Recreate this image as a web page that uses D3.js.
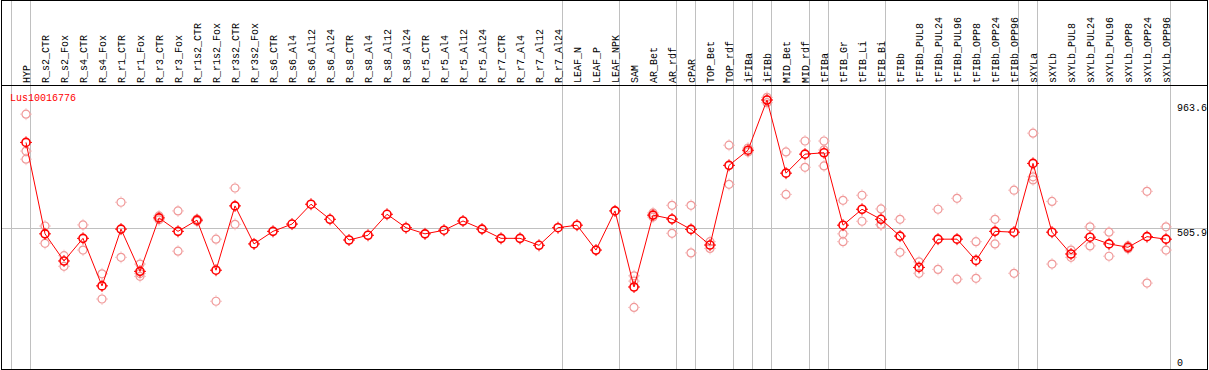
<!DOCTYPE html>
<html>
<head>
<meta charset="utf-8">
<script src="https://cdn.jsdelivr.net/npm/d3@7"></script>
<style>
  body { margin: 0; background: #fff; }
  svg { display: block; font-family: "Liberation Mono", "DejaVu Sans Mono", monospace; font-size: 10px; }
</style>
</head>
<body>
<svg width="1209" height="370"></svg>
<script>
const geneId = "Lus10016776"

const samples = ["HYP", "R_s2_CTR", "R_s2_Fox", "R_s4_CTR", "R_s4_Fox", "R_r1_CTR", "R_r1_Fox",
    "R_r3_CTR", "R_r3_Fox", "R_r1s2_CTR", "R_r1s2_Fox", "R_r3s2_CTR", "R_r3s2_Fox", "R_s6_CTR",
    "R_s6_Al4", "R_s6_Al12", "R_s6_Al24", "R_s8_CTR", "R_s8_Al4", "R_s8_Al12", "R_s8_Al24",
    "R_r5_CTR", "R_r5_Al4", "R_r5_Al12", "R_r5_Al24", "R_r7_CTR", "R_r7_Al4", "R_r7_Al12",
    "R_r7_Al24", "LEAF_N", "LEAF_P", "LEAF_NPK", "SAM", "AR_Bet", "AR_rdf", "cPAR", "TOP_Bet",
    "TOP_rdf", "iFIBa", "iFIBb", "MID_Bet", "MID_rdf", "tFIBa", "tFIB_Gr", "tFIB_Li", "tFIB_Bi",
    "tFIBb", "tFIBb_PUL8", "tFIBb_PUL24", "tFIBb_PUL96", "tFIBb_OPP8", "tFIBb_OPP24", "tFIBb_OPP96",
    "sXYLa", "sXYLb", "sXYLb_PUL8", "sXYLb_PUL24", "sXYLb_PUL96", "sXYLb_OPP8", "sXYLb_OPP24",
    "sXYLb_OPP96"]

// number of samples in each tissue group, separated by grey lines
const groupSizes = [1, 28, 3, 3, 1, 2, 1, 1, 2, 1, 3, 7, 1, 7]

const means = [812, 485, 388, 469, 299, 502, 351, 542, 494, 534, 355, 585, 449, 494,
    520, 591, 537, 463, 480, 555, 507, 485, 498, 531, 502, 469, 469, 444,
    507, 516, 427, 567, 295, 552, 538, 501, 445, 730, 784, 963.6, 702, 770,
    775, 516, 573, 537, 477, 365, 466, 466, 390, 494, 491, 737, 491, 413,
    473, 449, 437, 475, 466]

const replicates = [[913, 781, 752], [513, 451], [407, 369], [517, 427], [342, 252], [598, 401],
    [377, 343, 333], [549, 535], [567, 423], [538, 530], [466, 244], [649, 519],
    [], [], [], [], [], [], [], [], [], [], [], [], [], [], [], [], [], [], [], [],
    [335, 316, 222], [560, 545], [587, 487], [587, 417], [457, 433], [802, 662],
    [792, 778], [973, 964, 954], [778, 626], [817, 723], [817, 785, 728],
    [605, 485, 457], [623, 530], [574, 518, 518], [537, 419], [385, 344],
    [573, 358], [612, 323], [457, 326], [537, 449], [641, 344], [845, 689, 678],
    [601, 377], [427, 401], [510, 442], [491, 405], [442, 432], [637, 309], [510, 427]]

const yTicks = [963.6, 505.9, 0]
const yTickDy = [11, 8, -4]

const svg = d3.select("svg")
const width = +svg.attr("width")
const height = +svg.attr("height")
const headerY = 85.5

const x = d3.scalePoint().domain(samples).range([26, 1166])
const y = d3.scaleLinear().domain([0, 963.6]).range([369.5, 100])

// group separators
let bounds = [-1]
groupSizes.reduce((acc, n) => { bounds.push(acc + n - 1); return acc + n }, 0)
svg.append("g")
    .selectAll("line")
    .data(bounds)
    .enter().append("line")
    .attr("x1", d => 26 + x.step() * d + 4.5)
    .attr("x2", d => 26 + x.step() * d + 4.5)
    .attr("y1", 0)
    .attr("y2", height)
    .attr("stroke", "#c0c0c0")

svg.append("line")
    .attr("x1", 1).attr("x2", 1207)
    .attr("y1", Math.round(y(505.9)) + 0.5).attr("y2", Math.round(y(505.9)) + 0.5)
    .attr("stroke", "#c0c0c0")

// frame + header rule
svg.append("rect")
    .attr("x", 1.5).attr("y", 0.5)
    .attr("width", 1206).attr("height", 369)
    .attr("fill", "none").attr("stroke", "#000")
svg.append("line")
    .attr("x1", 1).attr("x2", 1208)
    .attr("y1", headerY).attr("y2", headerY)
    .attr("stroke", "#000")

svg.append("g")
    .selectAll("text")
    .data(samples)
    .enter().append("text")
    .attr("transform", d => `translate(${x(d) + 4},${headerY - 2.5}) rotate(-90)`)
    .text(d => d)

svg.append("g")
    .selectAll("text")
    .data(yTicks)
    .enter().append("text")
    .attr("x", 1177)
    .attr("y", (d, i) => y(d) + yTickDy[i])
    .text(d => d)

svg.append("text")
    .attr("x", 10).attr("y", 101)
    .attr("fill", "#ff0000")
    .text(geneId)

const marker = "M0,-6V-4M0,4V6M-6,0H-4M4,0H6"

let reps = []
replicates.forEach((r, i) => r.forEach(v => reps.push({ s: samples[i], v: v })))

let repG = svg.append("g")
    .selectAll("g")
    .data(reps)
    .enter().append("g")
    .attr("transform", d => `translate(${x(d.s)},${y(d.v)})`)
repG.append("circle")
    .attr("r", 4)
    .attr("fill", "none")
    .attr("stroke", "#f09898")
    .attr("stroke-width", 1.2)
repG.append("path")
    .attr("d", marker)
    .attr("stroke", "#f4b4b4")
    .attr("stroke-width", 0.8)

svg.append("path")
    .datum(means)
    .attr("fill", "none")
    .attr("stroke", "#ff0000")
    .attr("stroke-width", 1)
    .attr("d", d3.line().x((d, i) => x(samples[i])).y(d => y(d)))

let meanG = svg.append("g")
    .selectAll("g")
    .data(means)
    .enter().append("g")
    .attr("transform", (d, i) => `translate(${x(samples[i])},${y(d)})`)
meanG.append("circle")
    .attr("r", 4)
    .attr("fill", "none")
    .attr("stroke", "#ff0000")
    .attr("stroke-width", 1.6)
meanG.append("path")
    .attr("d", marker)
    .attr("stroke", "#ff0000")
    .attr("stroke-width", 1)
</script>
</body>
</html>
